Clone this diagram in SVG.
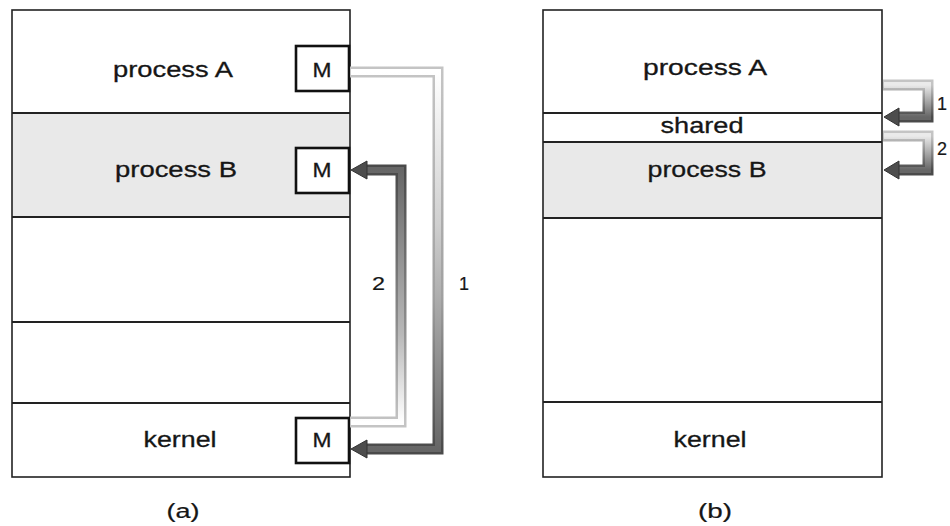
<svg xmlns="http://www.w3.org/2000/svg" width="950" height="526" viewBox="0 0 950 526">
<style>
.frame{fill:none;stroke:#222;stroke-width:1.6}
.div{stroke:#222;stroke-width:1.8}
.white{fill:#fff}
.gray{fill:#e9e9e9}
.mbox{fill:#fff;stroke:#111;stroke-width:2.6}
.lbl{font-family:"Liberation Sans",Arial,sans-serif;font-size:22px;fill:#161616;stroke:#161616;stroke-width:0.3;text-anchor:middle}
.m{font-family:"Liberation Sans",Arial,sans-serif;font-size:20px;fill:#161616;stroke:#161616;stroke-width:0.3;text-anchor:middle}
.num{font-family:"Liberation Sans",Arial,sans-serif;font-size:18px;fill:#161616;stroke:#161616;stroke-width:0.2}
.cap{font-family:"Liberation Sans",Arial,sans-serif;font-size:20px;fill:#161616;stroke:#161616;stroke-width:0.2;text-anchor:middle}
.outer{fill:none;stroke-width:11;stroke-linejoin:miter}
.inner{fill:none;stroke-width:6;stroke-linejoin:miter}
.head{fill:#4d4d4d;stroke:#333;stroke-width:1}
</style>
<defs>
<linearGradient id="gA1o" gradientUnits="userSpaceOnUse" x1="0" y1="72" x2="0" y2="449"><stop offset="0" stop-color="#c4c4c4"/><stop offset="0.6" stop-color="#a0a0a0"/><stop offset="1" stop-color="#4a4a4a"/></linearGradient>
<linearGradient id="gA1i" gradientUnits="userSpaceOnUse" x1="0" y1="72" x2="0" y2="449"><stop offset="0" stop-color="#ffffff"/><stop offset="0.4" stop-color="#d0d0d0"/><stop offset="1" stop-color="#666"/></linearGradient>
<linearGradient id="gA2o" gradientUnits="userSpaceOnUse" x1="0" y1="422" x2="0" y2="170"><stop offset="0" stop-color="#c4c4c4"/><stop offset="0.4" stop-color="#8c8c8c"/><stop offset="1" stop-color="#4a4a4a"/></linearGradient>
<linearGradient id="gA2i" gradientUnits="userSpaceOnUse" x1="0" y1="422" x2="0" y2="170"><stop offset="0" stop-color="#ffffff"/><stop offset="0.35" stop-color="#b8b8b8"/><stop offset="1" stop-color="#666"/></linearGradient>
<linearGradient id="gB1o" gradientUnits="userSpaceOnUse" x1="0" y1="85" x2="0" y2="117"><stop offset="0" stop-color="#c4c4c4"/><stop offset="1" stop-color="#4a4a4a"/></linearGradient>
<linearGradient id="gB1i" gradientUnits="userSpaceOnUse" x1="0" y1="85" x2="0" y2="117"><stop offset="0" stop-color="#eaeaea"/><stop offset="1" stop-color="#666"/></linearGradient>
<linearGradient id="gB2o" gradientUnits="userSpaceOnUse" x1="0" y1="136" x2="0" y2="170"><stop offset="0" stop-color="#c4c4c4"/><stop offset="1" stop-color="#4a4a4a"/></linearGradient>
<linearGradient id="gB2i" gradientUnits="userSpaceOnUse" x1="0" y1="136" x2="0" y2="170"><stop offset="0" stop-color="#eaeaea"/><stop offset="1" stop-color="#666"/></linearGradient>
</defs>
<rect width="950" height="526" fill="#fff"/>

<!-- Panel (a) -->
<g id="a-processA">
<rect x="12" y="10" width="338" height="103" class="white"/>
<text x="173" y="77" class="lbl" textLength="120" lengthAdjust="spacingAndGlyphs">process A</text>
</g>
<g id="a-processB">
<rect x="12" y="113" width="338" height="104" class="gray"/>
<text x="176" y="177" class="lbl" textLength="122" lengthAdjust="spacingAndGlyphs">process B</text>
</g>
<g id="a-free1"><rect x="12" y="217" width="338" height="105" class="white"/></g>
<g id="a-free2"><rect x="12" y="322" width="338" height="81" class="white"/></g>
<g id="a-kernel">
<rect x="12" y="403" width="338" height="74" class="white"/>
<text x="180" y="447" class="lbl" textLength="73" lengthAdjust="spacingAndGlyphs">kernel</text>
</g>
<g id="a-lines">
<rect x="12" y="10" width="338" height="467" class="frame"/>
<line x1="12" y1="113" x2="350" y2="113" class="div"/>
<line x1="12" y1="217" x2="350" y2="217" class="div"/>
<line x1="12" y1="322" x2="350" y2="322" class="div"/>
<line x1="12" y1="403" x2="350" y2="403" class="div"/>
</g>
<g id="a-MA">
<rect x="296" y="46" width="53" height="45" class="mbox"/>
<text x="322" y="77" class="m" textLength="19" lengthAdjust="spacingAndGlyphs">M</text>
</g>
<g id="a-MB">
<rect x="296" y="148" width="53" height="45" class="mbox"/>
<text x="322" y="177" class="m" textLength="19" lengthAdjust="spacingAndGlyphs">M</text>
</g>
<g id="a-MK">
<rect x="296" y="418" width="53" height="45" class="mbox"/>
<text x="322" y="447" class="m" textLength="19" lengthAdjust="spacingAndGlyphs">M</text>
</g>
<text x="183" y="518" class="cap" textLength="33" lengthAdjust="spacingAndGlyphs">(a)</text>

<!-- Panel (b) -->
<g id="b-processA">
<rect x="543" y="10" width="339" height="103" class="white"/>
<text x="705" y="75" class="lbl" textLength="124" lengthAdjust="spacingAndGlyphs">process A</text>
</g>
<g id="b-shared">
<rect x="543" y="113" width="339" height="29" class="white"/>
<text x="702" y="133" class="lbl" textLength="83" lengthAdjust="spacingAndGlyphs">shared</text>
</g>
<g id="b-processB">
<rect x="543" y="142" width="339" height="76" class="gray"/>
<text x="707" y="177" class="lbl" textLength="119" lengthAdjust="spacingAndGlyphs">process B</text>
</g>
<g id="b-free"><rect x="543" y="218" width="339" height="184" class="white"/></g>
<g id="b-kernel">
<rect x="543" y="402" width="339" height="75" class="white"/>
<text x="710" y="447" class="lbl" textLength="73" lengthAdjust="spacingAndGlyphs">kernel</text>
</g>
<g id="b-lines">
<rect x="543" y="10" width="339" height="467" class="frame"/>
<line x1="543" y1="113" x2="882" y2="113" class="div"/>
<line x1="543" y1="142" x2="882" y2="142" class="div"/>
<line x1="543" y1="218" x2="882" y2="218" class="div"/>
<line x1="543" y1="402" x2="882" y2="402" class="div"/>
</g>
<text x="715" y="518" class="cap" textLength="34" lengthAdjust="spacingAndGlyphs">(b)</text>

<!-- Connectors -->
<g id="connectors">
<path d="M350,72 H438 V449 H365" class="outer" stroke="url(#gA1o)"/>
<path d="M351,72 H438 V449 H365" class="inner" stroke="url(#gA1i)"/>
<polygon points="351,449 367,440 367,458" class="head"/>

<path d="M350,422 H401 V170 H365" class="outer" stroke="url(#gA2o)"/>
<path d="M351,422 H401 V170 H365" class="inner" stroke="url(#gA2i)"/>
<polygon points="351,170 367,161 367,179" class="head"/>

<path d="M883,85 H928 V117 H897" class="outer" stroke="url(#gB1o)"/>
<path d="M884,85 H928 V117 H897" class="inner" stroke="url(#gB1i)"/>
<polygon points="884,117 899,108 899,126" class="head"/>

<path d="M883,136 H928 V170 H897" class="outer" stroke="url(#gB2o)"/>
<path d="M884,136 H928 V170 H897" class="inner" stroke="url(#gB2i)"/>
<polygon points="884,170 899,161 899,179" class="head"/>

<text x="372" y="290" class="num" textLength="13" lengthAdjust="spacingAndGlyphs">2</text>
<text x="459" y="290" class="num">1</text>
<text x="937" y="110" class="num" font-size="16">1</text>
<text x="937" y="155" class="num" font-size="16">2</text>
</g>
</svg>
